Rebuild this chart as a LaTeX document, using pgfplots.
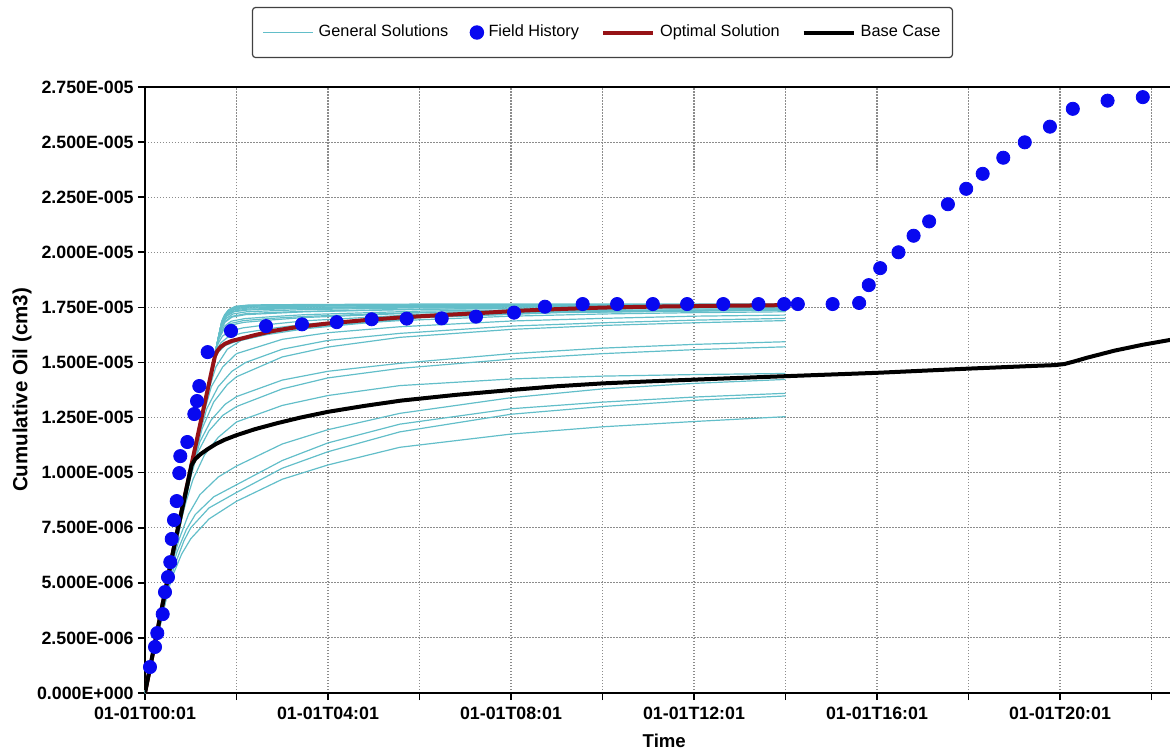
\documentclass[border=0pt]{standalone}
\usepackage{fontspec}
\setmainfont{Liberation Sans}
\usepackage{pgfplots}
\pgfplotsset{compat=1.18}

\definecolor{gensol}{RGB}{98,190,201}
\definecolor{fieldblue}{RGB}{8,8,240}
\definecolor{optred}{RGB}{150,18,22}
\definecolor{gridgray}{RGB}{140,140,140}

\pgfplotsset{
  gen/.style={gensol, line width=0.6pt, forget plot, line join=round},
  legline/.style={legend image code/.code={\draw[##1] (0pt,0pt) -- (25pt,0pt);}},
  legdot/.style={legend image code/.code={\draw[##1] plot coordinates {(3pt,0pt)};}},
}

\begin{document}
\begin{tikzpicture}
% cumulative oil values are given in units of 1e-6 cm3, time in hours after 00:01
\begin{axis}[
  at={(0pt,0pt)}, anchor=south west,
  scale only axis,
  width=519.25pt, height=303pt,
  xmin=0, xmax=22.7,
  ymin=0, ymax=27.5,
  axis line style={line width=1.25pt},
  xtick={0,2,4,6,8,10,12,14,16,18,20,22},
  xticklabels={01-01T00:01,{},01-01T04:01,{},01-01T08:01,{},01-01T12:01,{},01-01T16:01,{},01-01T20:01,{}},
  ytick={0,2.5,5,7.5,10,12.5,15,17.5,20,22.5,25,27.5},
  yticklabels={0.000E+000,2.500E-006,5.000E-006,7.500E-006,1.000E-005,1.250E-005,1.500E-005,1.750E-005,2.000E-005,2.250E-005,2.500E-005,2.750E-005},
  tick pos=left,
  tick align=outside,
  major tick length=3.5pt,
  tick style={line width=0.8pt, black},
  ticklabel style={font=\bfseries\fontsize{8.9}{10}\selectfont},
  yticklabel style={inner xsep=2pt},
  grid=major,
  major grid style={gridgray, line width=0.55pt, dash pattern=on 0.75pt off 0.75pt},
  xlabel={Time}, ylabel={Cumulative Oil (cm3)},
  xlabel style={font=\bfseries\fontsize{9.3}{11}\selectfont, at={(axis description cs:0.5,-0.079)}, anchor=center},
  ylabel style={font=\bfseries\fontsize{10.25}{12}\selectfont, at={(axis description cs:-0.1184,0.5)}, anchor=center},
  legend columns=4,
  legend cell align=left,
  legend style={at={(0.4405,1.0899)}, anchor=center, draw=black!75, line width=0.6pt,
    rounded corners=1.5pt, font=\fontsize{8.15}{10}\selectfont,
    inner xsep=5pt, inner ysep=6.3pt,
    nodes={inner xsep=1pt, inner ysep=2.5pt},
    /tikz/every odd column/.style={column sep=1.5pt},
    /tikz/every even column/.style={column sep=10pt}},
  legend entries={General Solutions, Field History, Optimal Solution, Base Case},
]
\addlegendimage{legline, gensol, line width=0.6pt}
\addlegendimage{legdot, only marks, mark=*, mark size=3.3pt, fieldblue, mark options={draw=fieldblue, fill=fieldblue}}
\addlegendimage{legline, optred, line width=2pt}
\addlegendimage{legline, black, line width=2pt}

% General solutions: early-branching runs
\addplot[gen] coordinates {(0,0)(0.5,4.6)(0.6,5.3)(0.8,6.3)(1.0,7.0)(1.4,7.9)(2.0,8.7)(3.0,9.7)(4.0,10.35)(5.57,11.15)(8.0,11.75)(10.0,12.08)(12.0,12.32)(14.0,12.54)};
\addplot[gen] coordinates {(0,0)(0.55,5.1)(0.65,5.8)(0.85,6.9)(1.0,7.5)(1.4,8.4)(2.0,9.1)(3.0,10.2)(4.0,10.95)(5.57,11.85)(8.0,12.65)(10.0,13.0)(12.0,13.28)(14.0,13.48)};
\addplot[gen] coordinates {(0,0)(0.6,5.7)(0.7,6.4)(0.9,7.4)(1.1,8.1)(1.5,8.9)(2.0,9.45)(3.0,10.55)(4.0,11.35)(5.57,12.2)(8.0,12.9)(10.0,13.2)(12.0,13.43)(14.0,13.6)};
\addplot[gen] coordinates {(0,0)(0.65,6.3)(0.75,7.0)(0.95,8.1)(1.2,9.0)(1.6,9.8)(2.0,10.3)(3.0,11.3)(4.0,11.95)(5.57,12.69)(8.0,13.4)(10.0,13.8)(12.0,14.05)(14.0,14.23)};
\addplot[gen] coordinates {(0,0)(0.8,7.9)(0.9,8.7)(1.05,9.7)(1.3,10.8)(1.6,11.6)(2.0,12.3)(3.0,13.05)(4.0,13.5)(5.57,13.95)(8.0,14.25)(10.0,14.38)(12.0,14.45)(14.0,14.5)};
\addplot[gen] coordinates {(0,0)(0.9,8.9)(1.0,9.8)(1.15,10.9)(1.4,11.9)(1.7,12.6)(2.0,13.0)(3.0,13.8)(4.0,14.3)(5.57,14.73)(8.0,15.15)(10.0,15.4)(12.0,15.58)(14.0,15.71)};
\addplot[gen] coordinates {(0,0)(0.95,9.4)(1.05,10.3)(1.2,11.4)(1.45,12.4)(1.75,13.1)(2.0,13.45)(3.0,14.2)(4.0,14.6)(5.57,14.96)(8.0,15.4)(10.0,15.65)(12.0,15.82)(14.0,15.94)};
\addplot[gen] coordinates {(0,0)(1.0,9.9)(1.1,10.8)(1.25,12.0)(1.5,13.2)(1.8,14.0)(2.0,14.35)(3.0,15.25)(4.0,15.7)(5.57,16.14)(8.0,16.5)(10.0,16.68)(12.0,16.8)(14.0,16.9)};
\addplot[gen] coordinates {(0,0)(1.1,10.9)(1.2,11.8)(1.35,12.9)(1.6,13.9)(1.9,14.6)(2.2,15.0)(3.0,15.6)(4.0,16.0)(5.57,16.32)(8.0,16.65)(10.0,16.8)(12.0,16.92)(14.0,17.0)};
\addplot[gen] coordinates {(0,0)(1.2,11.9)(1.3,12.8)(1.45,13.9)(1.7,14.8)(2.0,15.4)(3.0,16.05)(4.0,16.35)(5.57,16.62)(8.0,16.88)(10.0,17.0)(12.0,17.1)(14.0,17.15)};
\addplot[gen] coordinates {(0,0)(1.3,12.9)(1.4,13.8)(1.55,14.8)(1.8,15.6)(2.1,16.0)(3.0,16.45)(4.0,16.7)(5.57,16.9)(8.0,17.1)(10.0,17.2)(12.0,17.26)(14.0,17.3)};

% General solutions: late-branching runs forming the upper band
\addplot[gen] coordinates {(0,0)(1.682,16.9)(1.742,17.17)(1.832,17.40)(1.982,17.55)(2.282,17.61)(2.882,17.62)(3.5,17.63)(6,17.65)(9,17.65)(14,17.66)};
\addplot[gen] coordinates {(0,0)(1.672,16.8)(1.732,17.09)(1.822,17.34)(1.972,17.50)(2.272,17.56)(2.872,17.58)(3.5,17.59)(6,17.61)(9,17.62)(14,17.63)};
\addplot[gen] coordinates {(0,0)(1.652,16.6)(1.712,16.93)(1.802,17.21)(1.952,17.39)(2.252,17.47)(2.852,17.49)(3.5,17.51)(6,17.54)(9,17.56)(14,17.57)};
\addplot[gen] coordinates {(0,0)(1.642,16.5)(1.702,16.83)(1.792,17.11)(1.942,17.30)(2.242,17.38)(2.842,17.42)(3.5,17.45)(6,17.51)(9,17.53)(14,17.55)};
\addplot[gen] coordinates {(0,0)(1.622,16.3)(1.682,16.68)(1.772,16.99)(1.922,17.20)(2.222,17.30)(2.822,17.35)(3.5,17.40)(6,17.48)(9,17.53)(14,17.55)};
\addplot[gen] coordinates {(0,0)(1.602,16.1)(1.662,16.50)(1.752,16.83)(1.902,17.06)(2.202,17.17)(2.802,17.23)(3.5,17.30)(6,17.41)(9,17.47)(14,17.49)};
\addplot[gen] coordinates {(0,0)(1.582,15.9)(1.642,16.30)(1.732,16.64)(1.882,16.87)(2.182,16.99)(2.782,17.08)(3.5,17.17)(6,17.33)(9,17.41)(14,17.44)};
\addplot[gen] coordinates {(0,0)(1.562,15.7)(1.622,16.10)(1.712,16.45)(1.862,16.69)(2.162,16.82)(2.762,16.93)(3.5,17.04)(6,17.25)(9,17.34)(14,17.39)};
\addplot[gen] coordinates {(0,0)(1.542,15.5)(1.602,15.87)(1.692,16.19)(1.842,16.42)(2.142,16.57)(2.742,16.73)(3.5,16.89)(6,17.18)(9,17.32)(14,17.39)};
\addplot[gen] coordinates {(0,0)(1.512,15.2)(1.572,15.58)(1.662,15.90)(1.812,16.15)(2.112,16.33)(2.712,16.53)(3.5,16.74)(6,17.11)(9,17.30)(14,17.38)};
\addplot[gen] coordinates {(0,0)(1.483,14.9)(1.543,15.28)(1.633,15.62)(1.783,15.88)(2.083,16.08)(2.683,16.33)(3.5,16.58)(6,17.05)(9,17.27)(14,17.38)};
\addplot[gen] coordinates {(0,0)(1.662,16.7)(1.722,17.05)(1.812,17.34)(1.962,17.53)(2.262,17.59)(2.862,17.60)(3.5,17.60)(6,17.61)(9,17.61)(14,17.62)};
\addplot[gen] coordinates {(0,0)(1.632,16.4)(1.692,16.79)(1.782,17.12)(1.932,17.33)(2.232,17.42)(2.832,17.45)(3.5,17.47)(6,17.52)(9,17.54)(14,17.55)};
\addplot[gen] coordinates {(0,0)(1.592,16.0)(1.652,16.46)(1.742,16.84)(1.892,17.09)(2.192,17.21)(2.792,17.27)(3.5,17.32)(6,17.42)(9,17.47)(14,17.50)};
\addplot[gen] coordinates {(0,0)(1.552,15.6)(1.612,16.08)(1.702,16.48)(1.852,16.76)(2.152,16.90)(2.752,17.00)(3.5,17.09)(6,17.27)(9,17.35)(14,17.39)};
\addplot[gen] coordinates {(0,0)(1.453,14.6)(1.513,15.06)(1.603,15.47)(1.753,15.77)(2.053,16.00)(2.653,16.26)(3.5,16.53)(6,17.03)(9,17.26)(14,17.38)};
\addplot[gen] coordinates {(0,0)(1.677,16.85)(1.737,17.13)(1.827,17.36)(1.977,17.52)(2.277,17.57)(2.877,17.58)(3.5,17.59)(6,17.60)(9,17.61)(14,17.61)};
\addplot[gen] coordinates {(0,0)(1.667,16.75)(1.727,17.06)(1.817,17.32)(1.967,17.49)(2.267,17.55)(2.867,17.57)(3.5,17.57)(6,17.59)(9,17.60)(14,17.60)};
\addplot[gen] coordinates {(0,0)(1.647,16.55)(1.707,16.92)(1.797,17.23)(1.947,17.43)(2.247,17.51)(2.847,17.53)(3.5,17.55)(6,17.58)(9,17.59)(14,17.60)};

% Optimal solution
\addplot[optred, line width=2pt, line join=round, forget plot] coordinates {
(0,0)(0.33,3.45)(0.66,6.9)(1.02,10.4)(1.3,13.1)(1.53,15.3)(1.58,15.52)(1.65,15.7)(1.75,15.85)(1.9,15.98)(2.1,16.08)(2.4,16.24)(2.8,16.43)(3.3,16.6)(4.0,16.77)(4.8,16.92)(5.7,17.06)(6.5,17.15)(7.3,17.24)(8.2,17.35)(9.0,17.42)(10.0,17.49)(11.0,17.53)(12.0,17.56)(13.0,17.58)(13.95,17.6)};

% Base case
\addplot[black, line width=2pt, line join=round, forget plot] coordinates {
(0,0)(0.33,3.45)(0.66,6.9)(1.02,10.35)(1.1,10.62)(1.22,10.85)(1.38,11.08)(1.55,11.3)(1.75,11.5)(2.0,11.7)(2.4,11.97)(2.9,12.25)(3.4,12.5)(4.0,12.76)(4.8,13.03)(5.6,13.27)(6.8,13.53)(8.0,13.75)(9.0,13.92)(10.0,14.05)(11.0,14.14)(12.0,14.22)(13.0,14.3)(14.3,14.4)(16.0,14.53)(18.0,14.72)(19.5,14.85)(19.9,14.88)(20.1,14.93)(20.3,15.04)(20.6,15.22)(21.2,15.54)(21.8,15.8)(22.4,16.02)(22.7,16.13)};

% Field history
\addplot[only marks, mark=*, mark size=3.3pt, fieldblue, mark options={draw=fieldblue, fill=fieldblue}, forget plot] coordinates {
(0.109,1.18)(0.219,2.09)(0.269,2.72)(0.387,3.58)(0.437,4.58)(0.503,5.26)(0.553,5.94)(0.584,6.99)(0.634,7.85)(0.693,8.71)
(0.750,9.98)(0.772,10.75)(0.925,11.39)(1.078,12.66)(1.137,13.25)(1.187,13.93)(1.370,15.47)(1.880,16.43)(2.645,16.65)(3.432,16.73)
(4.190,16.83)(4.955,16.96)(5.720,16.99)(6.485,17.00)(7.235,17.08)(8.066,17.26)(8.743,17.53)(9.567,17.65)(10.32,17.65)(11.10,17.65)
(11.85,17.65)(12.64,17.65)(13.41,17.65)(13.97,17.65)(14.27,17.65)(15.03,17.65)(15.61,17.70)(15.82,18.51)(16.07,19.28)(16.47,20.00)
(16.80,20.75)(17.14,21.40)(17.55,22.18)(17.95,22.88)(18.31,23.56)(18.76,24.29)(19.23,24.99)(19.78,25.70)(20.28,26.51)(21.04,26.88)
(21.81,27.04)};
\end{axis}
\pgfresetboundingbox
\path[use as bounding box] (-72.5pt,-29pt) rectangle (512.5pt,346.5pt);
\end{tikzpicture}
\end{document}
